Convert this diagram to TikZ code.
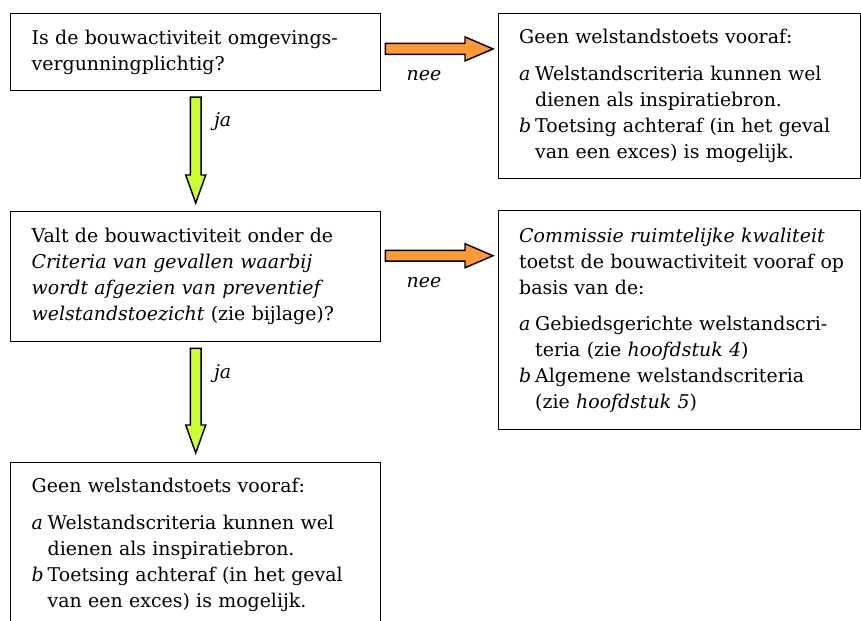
\documentclass[tikz,border=0pt]{standalone}
\usepackage{fontspec}
\setmainfont{DejaVu Serif}
\usetikzlibrary{calc,positioning}
\definecolor{nee}{HTML}{FF9933}
\definecolor{ja}{HTML}{CCFF33}
\newcommand{\keuze}[1]{\makebox[12pt][l]{\textit{#1}}}
\newcommand{\inspring}{\hspace*{12pt}}
\tikzset{
  box/.style={draw,line width=1.1pt,anchor=north west,align=left,inner xsep=15.75pt,inner ysep=0pt,font=\fontsize{14.2}{19.5}\selectfont},
  lbl/.style={font=\fontsize{14.2}{19.5}\selectfont\itshape,inner sep=0pt,anchor=base west},
  blockline/.style={line width=1.1pt,line join=miter}
}
\newcommand{\sidearrow}[2]{%
  \draw[blockline,fill=nee] let \p1=(#1), \p2=(#2) in
    (\x1,\y1+4.1pt) -- (\x2-21pt,\y1+4.1pt) -- (\x2-21pt,\y1+9pt) -- (\x2,\y1)
    -- (\x2-21pt,\y1-9pt) -- (\x2-21pt,\y1-4.1pt) -- (\x1,\y1-4.1pt) -- cycle;
}
\newcommand{\downarr}[2]{%
  \draw[blockline,fill=ja] let \p1=(#1), \p2=(#2) in
    (\x1-4.1pt,\y1) -- (\x1-4.1pt,\y2+21pt) -- (\x1-7.5pt,\y2+21pt) -- (\x1,\y2)
    -- (\x1+7.5pt,\y2+21pt) -- (\x1+4.1pt,\y2+21pt) -- (\x1+4.1pt,\y1) -- cycle;
}

\begin{document}
\begin{tikzpicture}[x=0.75pt,y=-0.75pt]
  \useasboundingbox (0,0) rectangle (861,621);
  \node[box,text width=246pt,minimum height=57.75pt] (q1) at (10,12.7)
    {Is de bouwactiviteit omgevings-\\vergunningplichtig?};
  \node[box,text width=240pt,minimum height=123.75pt] (r1) at (497.5,13)
    {Geen welstandstoets vooraf:\\[8pt]
     \keuze{a}Welstandscriteria kunnen wel\\
     \inspring dienen als inspiratiebron.\\
     \keuze{b}Toetsing achteraf (in het geval\\
     \inspring van een exces) is mogelijk.};
  \node[box,text width=246pt,minimum height=97.5pt] (q2) at (10,211)
    {Valt de bouwactiviteit onder de\\
     \textit{Criteria van gevallen waarbij}\\
     \textit{wordt afgezien van preventief}\\
     \textit{welstandstoezicht} (zie bijlage)?};
  \node[box,text width=240pt,minimum height=164.25pt] (r2) at (497.5,210)
    {\textit{Commissie ruimtelijke kwaliteit}\\
     \mbox{toetst de bouwactiviteit vooraf op}\\
     basis van de:\\[8pt]
     \keuze{a}Gebiedsgerichte welstandscri-\\
     \inspring teria (zie \textit{hoofdstuk 4})\\
     \keuze{b}Algemene welstandscriteria\\
     \inspring (zie \textit{hoofdstuk 5})};
  \node[box,text width=246pt,minimum height=123.75pt] (r3) at (10,462)
    {Geen welstandstoets vooraf:\\[8pt]
     \keuze{a}Welstandscriteria kunnen wel\\
     \inspring dienen als inspiratiebron.\\
     \keuze{b}Toetsing achteraf (in het geval\\
     \inspring van een exces) is mogelijk.};

  \coordinate (n1) at ($(q1.east)+(4,-3)$);
  \coordinate (n2) at ($(q2.east)+(4,-21)$);
  \coordinate (j1) at ($(q1.south)+(0,6)$);
  \coordinate (j2) at ($(q2.south)+(0,6)$);
  \sidearrow{n1}{$(n1 -| r1.west)+(-4.5,0)$}
  \sidearrow{n2}{$(n2 -| r2.west)+(-4.5,0)$}
  \downarr{j1}{$(j1 |- q2.north)+(0,-8)$}
  \downarr{j2}{$(j2 |- r3.north)+(0,-9)$}
  \node[lbl] (nee1) at ($(n1)+(21,32)$) {nee};
  \node[lbl] (nee2) at ($(n2)+(21,32)$) {nee};
  \node[lbl] (ja1) at ($(j1)+(18,29)$) {ja};
  \node[lbl] (ja2) at ($(j2)+(18,30)$) {ja};
\end{tikzpicture}
\end{document}
